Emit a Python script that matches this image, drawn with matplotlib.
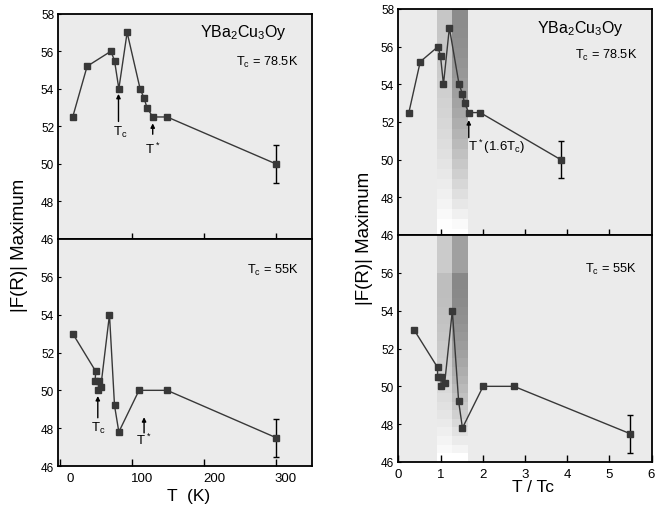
import matplotlib
matplotlib.use('Agg')
import matplotlib.pyplot as plt
import matplotlib.transforms as mtransforms
import numpy as np

plt.rcParams['font.family'] = ['Liberation Sans', 'DejaVu Sans']
plt.rcParams['mathtext.fontset'] = 'custom'
plt.rcParams['mathtext.rm'] = 'Liberation Sans'

# Tc = 78.5K sample
t_top = [18, 38, 71, 76, 82, 93.5, 111.5, 117, 121, 129, 149, 300]
ratio_top = [0.25, 0.52, 0.94, 1.0, 1.07, 1.21, 1.44, 1.52, 1.57, 1.67, 1.94, 3.85]
f_top = [52.5, 55.2, 56, 55.5, 54, 57, 54, 53.5, 53, 52.5, 52.5, 50]
err_top = 1.0

# Tc = 55K sample
t_bot = [18, 50, 49, 55, 53, 57, 69, 76, 82, 110, 149, 300]
ratio_bot = [0.37, 0.93, 0.93, 1.02, 1.01, 1.10, 1.28, 1.43, 1.52, 2.01, 2.74, 5.49]
f_bot = [53, 51, 50.5, 50.5, 50, 50.2, 54, 49.2, 47.8, 50, 50, 47.5]
err_bot = 1.0

# shaded band on the T/Tc panels
band_left = [0.91, 1.27]
band_right = [1.27, 1.64]

yticks_top = [46, 48, 50, 52, 54, 56, 58]
yticks_bot = [46, 48, 50, 52, 54, 56]
xticks_T = [0, 100, 200, 300]
xticks_R = [0, 1, 2, 3, 4, 5, 6]

W, H = 664, 506
fig = plt.figure(figsize=(W / 100, H / 100), dpi=100)

def box(x0, x1, y0, y1):
    return [x0 / W, 1 - y1 / H, (x1 - x0) / W, (y1 - y0) / H]

bg = '#ebebeb'
mk = '#383838'

axLT = fig.add_axes(box(58.3, 312, 14.7, 240))
axLB = fig.add_axes(box(58.3, 312, 240, 467))
axRT = fig.add_axes(box(398.3, 651.5, 10, 236))
axRB = fig.add_axes(box(398.3, 651.5, 236, 463))


def style(ax, top):
    ax.set_facecolor(bg)
    for s in ax.spines.values():
        s.set_linewidth(1.3)
    ax.set_ylim(46, 58)
    ax.set_yticks(yticks_top if top else yticks_bot)
    ax.tick_params(axis='y', direction='in', length=2, labelsize=8.5, pad=3)
    if top:
        ax.tick_params(axis='x', direction='inout', length=8, width=1,
                       labelbottom=False)
    else:
        ax.tick_params(axis='x', direction='in', length=5, width=1,
                       labelsize=9.5, pad=4)


def draw(ax, x, y, err):
    ax.plot(x, y, '-', color=mk, lw=1, marker='s', markersize=4.5,
            markerfacecolor=mk, markeredgecolor=mk, zorder=3)
    ax.errorbar(x[-1], y[-1], yerr=err, color='black', lw=1, capsize=2.5,
                fmt='none', zorder=2)


for ax, top in [(axLT, True), (axLB, False), (axRT, True), (axRB, False)]:
    style(ax, top)

draw(axLT, t_top, f_top, err_top)
draw(axLB, t_bot, f_bot, err_bot)
draw(axRT, ratio_top, f_top, err_top)
draw(axRB, ratio_bot, f_bot, err_bot)

for ax in (axLT, axLB):
    ax.set_xlim(-2, 350)
    ax.set_xticks(xticks_T)
axLT.set_xticks(xticks_T[1:])
for ax in (axRT, axRB):
    ax.set_xlim(0, 6)
    ax.set_xticks(xticks_R)
axRT.set_xticks(xticks_R[1:-1])

# the original tick labels sit a bit right of their ticks
shift = mtransforms.ScaledTranslation(0.10, 0, fig.dpi_scale_trans)
for lab in axLB.get_xticklabels():
    lab.set_transform(lab.get_transform() + shift)


# gradient bands, stepped like the original
def band(ax, x0, x1, c_top, c_bot, y_top=58, y_bot=46, steps=22, gamma=1.8):
    s = np.linspace(0, 1, steps) ** gamma
    v = c_top + (c_bot - c_top) * s
    img = np.repeat(v[:, None, None], 3, axis=2) / 255.0
    ax.imshow(img, extent=(x0, x1, y_bot, y_top), aspect='auto',
              interpolation='nearest', zorder=1)


band(axRT, band_left[0], band_left[1], 198, 254, y_bot=46.3)
band(axRT, band_right[0], band_right[1], 140, 250, y_bot=46.3)
band(axRB, band_left[0], band_left[1], 190, 255, y_top=56)
band(axRB, band_right[0], band_right[1], 136, 255, y_top=56)
for ax in (axRT, axRB):
    ax.set_xlim(0, 6)
    ax.set_ylim(46, 58)
axRT.axvspan(band_left[0], band_left[1], 0, 0.3 / 12, color='white', lw=0, zorder=1)
axRT.axvspan(band_right[0], band_right[1], 0, 0.3 / 12, color='white', lw=0, zorder=1)
axRB.axvspan(band_left[0], band_left[1], (56 - 46) / 12, 1,
             color='#cbcbcb', lw=0, zorder=1)
axRB.axvspan(band_right[0], band_right[1], (56 - 46) / 12, 1,
             color='#a0a0a0', lw=0, zorder=1)

# texts
formula = r'YBa$\mathregular{_2}$Cu$\mathregular{_3}$Oy'
axLT.text(0.558, 0.919, formula, transform=axLT.transAxes, fontsize=11.5,
          ha='left', va='center')
axRT.text(0.548, 0.920, formula, transform=axRT.transAxes, fontsize=11.5,
          ha='left', va='center')
axLT.text(0.70, 0.786, r'T$\mathregular{_c}$ = 78.5K', transform=axLT.transAxes,
          fontsize=9.2, ha='left', va='center')
axRT.text(0.698, 0.80, r'T$\mathregular{_c}$ = 78.5K', transform=axRT.transAxes,
          fontsize=9.2, ha='left', va='center')
axLB.text(0.744, 0.868, r'T$\mathregular{_c}$ = 55K', transform=axLB.transAxes,
          fontsize=9.2, ha='left', va='center')
axRB.text(0.737, 0.853, r'T$\mathregular{_c}$ = 55K', transform=axRB.transAxes,
          fontsize=9.2, ha='left', va='center')

arrow = dict(arrowstyle='-|>', color='black', lw=1, mutation_scale=6,
             shrinkA=0, shrinkB=0)


def mark(ax, x, tip, tail, label, ly, lx=None, ha='center'):
    ax.annotate('', xy=(x, tip), xytext=(x, tail), arrowprops=arrow, zorder=4)
    ax.text(x if lx is None else lx, ly, label, fontsize=9.5, ha=ha, va='center')


mark(axLT, 81.5, 53.73, 52.26, r'T$\mathregular{_c}$', 51.75, lx=84)
mark(axLT, 129, 52.16, 51.58, r'T$\mathregular{^*}$', 50.85)
mark(axLB, 52.8, 49.7, 48.55, r'T$\mathregular{_c}$', 48.05, lx=54)
mark(axLB, 117, 48.58, 47.75, r'T$\mathregular{^*}$', 47.4)
mark(axRT, 1.67, 52.1, 51.17, r'T$\mathregular{^*}$(1.6T$\mathregular{_c}$)',
     50.75, lx=1.64, ha='left')

fig.text(189 / W, 1 - 497 / H, 'T  (K)', fontsize=12.5, ha='center', va='center')
fig.text(533 / W, 1 - 488 / H, 'T / Tc', fontsize=12.5, ha='center', va='center')
fig.text(20 / W, 1 - 245 / H, '|F(R)| Maximum', fontsize=13.5, rotation=90,
         ha='center', va='center')
fig.text(364 / W, 1 - 238 / H, '|F(R)| Maximum', fontsize=13.5, rotation=90,
         ha='center', va='center')

fig.savefig('out.png', dpi=100)
